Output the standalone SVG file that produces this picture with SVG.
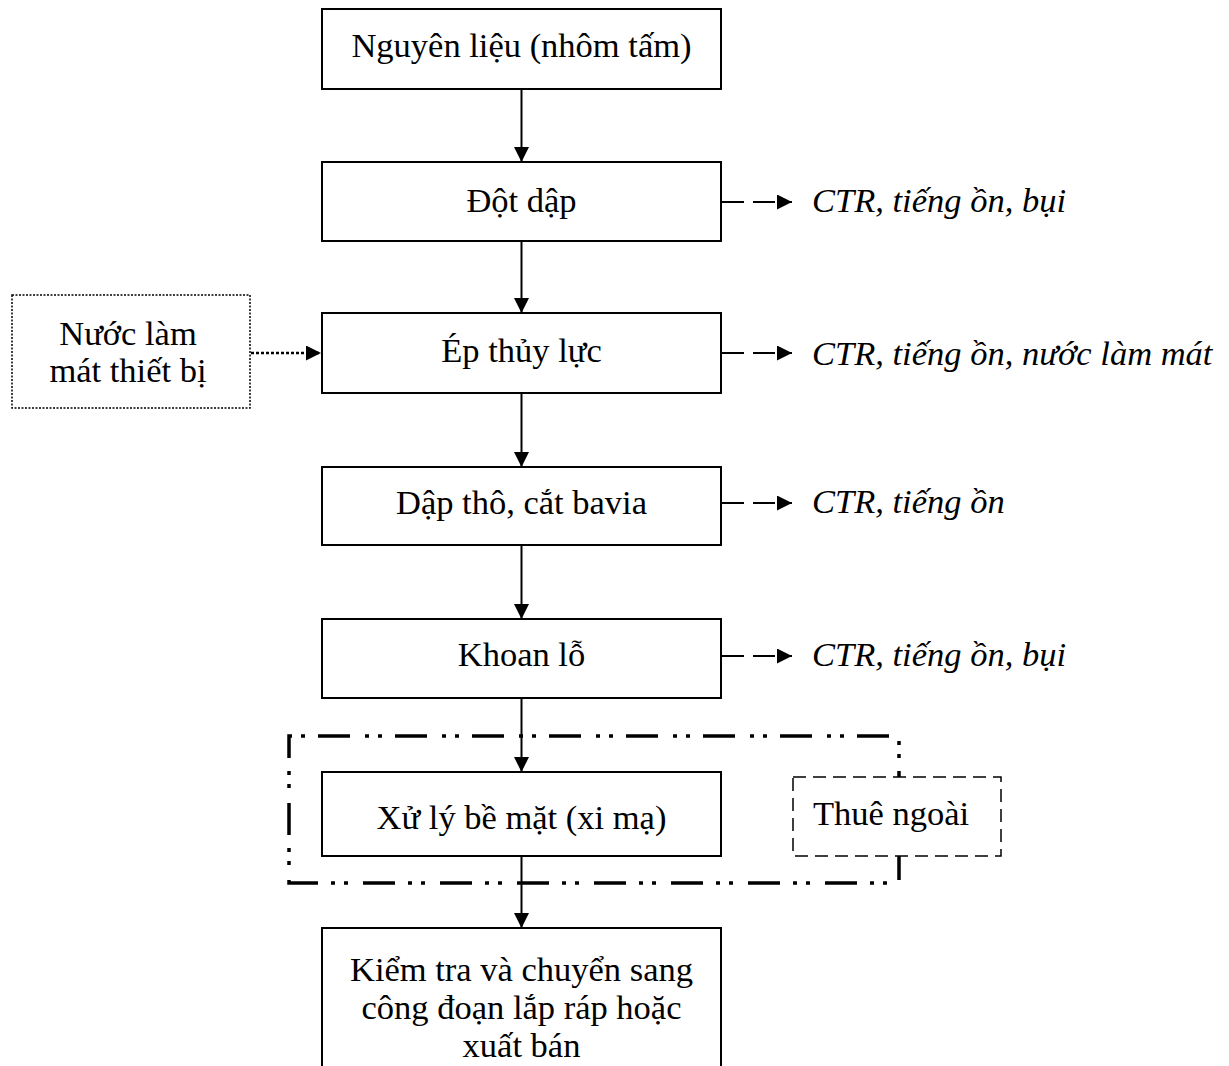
<svg xmlns="http://www.w3.org/2000/svg" width="1229" height="1066" viewBox="0 0 1229 1066">
  <style>
    .box { fill: #fff; stroke: #000; stroke-width: 2; }
    .lbl { font-family: "Liberation Serif", "Times New Roman", serif; font-size: 34.5px; fill: #000; text-anchor: middle; }
    .side { font-family: "Liberation Serif", "Times New Roman", serif; font-size: 34.5px; font-style: italic; fill: #000; }
    .flow { stroke: #000; stroke-width: 2; fill: none; marker-end: url(#ah); }
    .waste { stroke: #000; stroke-width: 2; fill: none; stroke-dasharray: 22 9; marker-end: url(#ah); }
    .feed { stroke: #000; stroke-width: 2.5; fill: none; stroke-dasharray: 3 2; marker-end: url(#ah); }
  </style>
  <defs>
    <marker id="ah" viewBox="0 0 15 15" refX="15" refY="7.5" markerWidth="15" markerHeight="15" orient="auto" markerUnits="userSpaceOnUse">
      <path d="M0,0 L15,7.5 L0,15 Z" fill="#000"/>
    </marker>
  </defs>
  <rect width="1229" height="1066" fill="#fff"/>

  <!-- outsourced stage frame (dash-dot-dot) -->
  <g id="outsource-frame">
    <path d="M289,736 V883 H899 V736 Z" fill="none" stroke="#000" stroke-width="3.5" stroke-dasharray="32 13 4 9 4 15" stroke-dashoffset="10"/>
  </g>

  <!-- connectors -->
  <g id="connectors">
    <line class="flow" x1="521.5" y1="90" x2="521.5" y2="162"/>
    <line class="flow" x1="521.5" y1="241" x2="521.5" y2="313"/>
    <line class="flow" x1="521.5" y1="393" x2="521.5" y2="467"/>
    <line class="flow" x1="521.5" y1="545" x2="521.5" y2="619"/>
    <line class="flow" x1="521.5" y1="698" x2="521.5" y2="772"/>
    <line class="flow" x1="521.5" y1="856" x2="521.5" y2="928"/>
    <line class="waste" x1="722" y1="202" x2="792" y2="202"/>
    <line class="waste" x1="722" y1="353" x2="792" y2="353"/>
    <line class="waste" x1="722" y1="503" x2="792" y2="503"/>
    <line class="waste" x1="722" y1="656" x2="792" y2="656"/>
    <line class="feed" x1="251" y1="353" x2="321" y2="353"/>
  </g>

  <g id="n-nguyen-lieu">
    <rect class="box" x="322" y="9" width="399" height="80"/>
    <text class="lbl" x="521.5" y="57">Nguyên liệu (nhôm tấm)</text>
  </g>
  <g id="n-dot-dap">
    <rect class="box" x="322" y="162" width="399" height="79"/>
    <text class="lbl" x="521.5" y="212">Đột dập</text>
  </g>
  <g id="n-ep-thuy-luc">
    <rect class="box" x="322" y="313" width="399" height="80"/>
    <text class="lbl" x="521.5" y="362">Ép thủy lực</text>
  </g>
  <g id="n-dap-tho">
    <rect class="box" x="322" y="467" width="399" height="78"/>
    <text class="lbl" x="521.5" y="514">Dập thô, cắt bavia</text>
  </g>
  <g id="n-khoan-lo">
    <rect class="box" x="322" y="619" width="399" height="79"/>
    <text class="lbl" x="521.5" y="666">Khoan lỗ</text>
  </g>
  <g id="n-xu-ly">
    <rect class="box" x="322" y="772" width="399" height="84"/>
    <text class="lbl" x="521.5" y="829">Xử lý bề mặt (xi mạ)</text>
  </g>
  <g id="n-kiem-tra">
    <rect class="box" x="322" y="928" width="399" height="160"/>
    <text class="lbl" x="521.5" y="981">Kiểm tra và chuyển sang</text>
    <text class="lbl" x="521.5" y="1019">công đoạn lắp ráp hoặc</text>
    <text class="lbl" x="521.5" y="1057">xuất bán</text>
  </g>

  <g id="n-nuoc-lam-mat">
    <rect x="12" y="295" width="238" height="113" fill="#fff" stroke="#000" stroke-width="1.5" stroke-dasharray="2 1.5"/>
    <text class="lbl" x="128" y="345">Nước làm</text>
    <text class="lbl" x="128" y="382">mát thiết bị</text>
  </g>

  <g id="n-thue-ngoai">
    <rect x="793" y="777" width="208" height="79" fill="#fff" stroke="#000" stroke-width="1.5" stroke-dasharray="13 7"/>
    <text class="lbl" x="891" y="825">Thuê ngoài</text>
  </g>

  <g id="waste-labels">
    <text class="side" x="812" y="212">CTR, tiếng ồn, bụi</text>
    <text class="side" x="812" y="365">CTR, tiếng ồn, nước làm mát</text>
    <text class="side" x="812" y="513">CTR, tiếng ồn</text>
    <text class="side" x="812" y="666">CTR, tiếng ồn, bụi</text>
  </g>
</svg>
